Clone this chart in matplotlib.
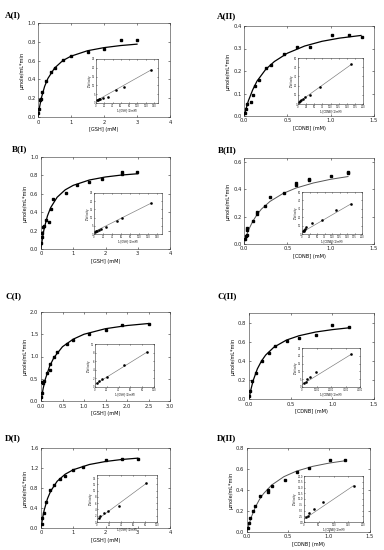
import matplotlib
matplotlib.use("Agg")
import matplotlib.pyplot as plt
from matplotlib.ticker import FormatStrFormatter

# ---- data ----
# A(I) GSH
a1_x = [0.01, 0.03, 0.05, 0.08, 0.12, 0.23, 0.38, 0.53, 0.75, 1.0, 1.5, 2.0, 2.5, 3.0]
a1_y = [0.04, 0.08, 0.18, 0.19, 0.27, 0.38, 0.48, 0.52, 0.61, 0.645, 0.69, 0.72, 0.815, 0.82]
a1_fit_x = [0, 0.05, 0.1, 0.2, 0.3, 0.5, 0.75, 1, 1.5, 2, 2.5, 3]
a1_fit_y = [0, 0.11, 0.20, 0.325, 0.41, 0.52, 0.60, 0.647, 0.705, 0.738, 0.76, 0.775]
a1_inv_x = [3, 4.5, 7.5, 10.5, 16.5, 28.5, 48, 67.5, 133.5]
a1_inv_y = [1.5, 1.75, 2.25, 2.5, 2.75, 3.5, 7.5, 9.25, 18.75]
a1_line_x = [0, 133.5]
a1_line_y = [1.2, 18.8]

# A(II) CDNB
a2_x = [0.01, 0.02, 0.04, 0.08, 0.1, 0.13, 0.17, 0.25, 0.31, 0.46, 0.61, 0.765, 1.01, 1.21, 1.36]
a2_y = [0.015, 0.03, 0.054, 0.064, 0.094, 0.134, 0.16, 0.213, 0.228, 0.277, 0.305, 0.305, 0.36, 0.36, 0.351]
a2_fit_x = [0, 0.05, 0.1, 0.15, 0.25, 0.35, 0.5, 0.7, 0.9, 1.1, 1.35]
a2_fit_y = [0, 0.067, 0.116, 0.155, 0.207, 0.242, 0.279, 0.311, 0.332, 0.346, 0.358]
a2_inv_x = [4, 6, 10, 14, 22, 36, 68, 164]
a2_inv_y = [2, 3, 4, 5, 8, 10, 19, 43]
a2_line_x = [0, 164]
a2_line_y = [1.5, 43]

# B(I) GSH
b1_x = [0.01, 0.03, 0.04, 0.06, 0.08, 0.15, 0.24, 0.3, 0.37, 0.76, 1.12, 1.49, 1.88, 2.5, 2.5, 2.98]
b1_y = [0.062, 0.135, 0.17, 0.235, 0.255, 0.32, 0.29, 0.43, 0.54, 0.605, 0.70, 0.73, 0.76, 0.84, 0.82, 0.84]
b1_fit_x = [0, 0.05, 0.1, 0.2, 0.3, 0.5, 0.75, 1, 1.5, 2, 2.5, 3]
b1_fit_y = [0, 0.13, 0.225, 0.36, 0.45, 0.5625, 0.643, 0.692, 0.75, 0.783, 0.804, 0.818]
b1_inv_x = [2, 4, 6, 10, 15, 27, 51, 61, 126]
b1_inv_y = [1.5, 1.75, 2.0, 2.5, 3.1, 4.5, 7.7, 9.75, 18.75]
b1_line_x = [0, 126]
b1_line_y = [1.3, 18.8]

# B(II) CDNB
b2_x = [0.01, 0.02, 0.03, 0.035, 0.04, 0.1, 0.155, 0.155, 0.24, 0.305, 0.456, 0.6, 0.6, 0.754, 0.754, 1.0, 1.2, 1.2]
b2_y = [0.034, 0.056, 0.066, 0.103, 0.115, 0.169, 0.22, 0.233, 0.28, 0.345, 0.377, 0.434, 0.444, 0.466, 0.473, 0.50, 0.517, 0.525]
b2_fit_x = [0, 0.02, 0.05, 0.1, 0.15, 0.2, 0.3, 0.45, 0.6, 0.8, 1.0, 1.2]
b2_fit_y = [0, 0.045, 0.1, 0.165, 0.215, 0.255, 0.312, 0.37, 0.41, 0.447, 0.474, 0.494]
b2_inv_x = [3, 5, 7, 10, 14, 34, 68, 112, 164]
b2_inv_y = [3, 4, 5, 6, 8, 13, 17, 28, 36]
b2_line_x = [0, 164]
b2_line_y = [2, 36]

# C(I) GSH
c1_x = [0.01, 0.015, 0.02, 0.05, 0.07, 0.15, 0.2, 0.22, 0.3, 0.37, 0.6, 0.75, 1.12, 1.5, 1.88, 2.5]
c1_y = [0.09, 0.17, 0.42, 0.40, 0.44, 0.63, 0.84, 0.70, 0.98, 1.11, 1.28, 1.37, 1.51, 1.59, 1.71, 1.74]
c1_fit_x = [0, 0.05, 0.1, 0.2, 0.3, 0.5, 0.75, 1, 1.5, 2, 2.5]
c1_fit_y = [0, 0.28, 0.49, 0.78, 0.975, 1.22, 1.39, 1.5, 1.625, 1.696, 1.741]
c1_inv_x = [4, 6, 12, 21, 49, 88]
c1_inv_y = [0.9, 1.3, 1.9, 2.3, 5.1, 8.1]
c1_line_x = [0, 88]
c1_line_y = [0.6, 8.1]

# C(II) CDNB
c2_x = [0.005, 0.01, 0.03, 0.08, 0.15, 0.24, 0.31, 0.45, 0.6, 0.8, 1.0, 1.2]
c2_y = [0.03, 0.08, 0.186, 0.27, 0.40, 0.48, 0.55, 0.61, 0.64, 0.67, 0.77, 0.75]
c2_fit_x = [0, 0.02, 0.05, 0.1, 0.15, 0.2, 0.3, 0.45, 0.6, 0.8, 1.0, 1.2]
c2_fit_y = [0, 0.089, 0.193, 0.315, 0.398, 0.46, 0.543, 0.617, 0.662, 0.701, 0.726, 0.745]
c2_inv_x = [150, 250, 350, 550, 950, 3400]
c2_inv_y = [2.6, 3.4, 5.2, 6.5, 9.8, 21]
c2_line_x = [0, 3400]
c2_line_y = [1.5, 21]

# D(I) GSH
d1_x = [0.02, 0.04, 0.08, 0.15, 0.29, 0.39, 0.6, 0.75, 0.99, 1.29, 2.0, 2.5, 3.0]
d1_y = [0.08, 0.21, 0.31, 0.53, 0.76, 0.86, 0.99, 1.05, 1.17, 1.23, 1.37, 1.38, 1.38]
d1_fit_x = [0, 0.05, 0.1, 0.2, 0.3, 0.5, 0.75, 1, 1.5, 2, 2.5, 3]
d1_fit_y = [0, 0.204, 0.36, 0.585, 0.738, 0.934, 1.076, 1.165, 1.27, 1.33, 1.37, 1.397]
d1_inv_x = [3, 5, 11, 19, 36, 82]
d1_inv_y = [1.2, 1.8, 3.0, 3.6, 5.2, 12.3]
d1_line_x = [0, 82]
d1_line_y = [0.7, 12.3]

# D(II) CDNB
d2_x = [0.01, 0.02, 0.04, 0.07, 0.1, 0.16, 0.255, 0.255, 0.31, 0.46, 0.61, 0.76, 1.01, 1.2]
d2_y = [0.04, 0.09, 0.13, 0.2, 0.25, 0.34, 0.385, 0.40, 0.44, 0.5, 0.57, 0.61, 0.69, 0.69]
d2_fit_x = [0, 0.02, 0.05, 0.1, 0.15, 0.2, 0.3, 0.45, 0.6, 0.8, 1.0, 1.2]
d2_fit_y = [0, 0.061, 0.137, 0.234, 0.3075, 0.364, 0.447, 0.527, 0.579, 0.625, 0.656, 0.679]
d2_inv_x = [6, 12, 16, 34, 66, 168]
d2_inv_y = [2.0, 2.8, 3.8, 5.8, 8.6, 15.8]
d2_line_x = [0, 168]
d2_line_y = [1.2, 15.8]

W, H = 384, 550
fig = plt.figure(figsize=(W / 100, H / 100), dpi=100)


def px_axes(l, t, r, b):
    return fig.add_axes([l / W, 1 - b / H, (r - l) / W, (b - t) / H])


def style(ax, fs, pad):
    for s in ax.spines.values():
        s.set_linewidth(0.4)
        s.set_color('#333333')
    ax.tick_params(direction='in', top=True, right=True, labelsize=fs,
                   width=0.4, length=1.6, pad=pad, colors='#222222')


def panel(box, inbox, label, lpos, x, y, fx, fy, ix, iy, lx, ly,
          xlim, xticks, xfmt, ylim, yticks, xlabel, inxlabel, inxlim, inylim,
          curve_color='black', curve_lw=0.9):
    ax = px_axes(*box)
    ax.plot(fx, fy, color=curve_color, lw=curve_lw, zorder=2)
    ax.plot(x, y, 's', color='black', ms=2.0, zorder=3)
    ax.set_xlim(*xlim)
    ax.set_ylim(*ylim)
    ax.set_xticks(xticks)
    ax.set_yticks(yticks)
    ax.xaxis.set_major_formatter(FormatStrFormatter(xfmt))
    ax.yaxis.set_major_formatter(FormatStrFormatter('%.1f'))
    style(ax, 3.8, 1.8)
    ax.set_xlabel(xlabel, fontsize=3.6, labelpad=1.5)
    ax.set_ylabel('µmole/mL*min', fontsize=3.6, labelpad=2)

    ins = px_axes(*inbox)
    ins.plot(lx, ly, color='#777777', lw=0.45)
    ins.plot(ix, iy, 's', color='black', ms=0.8)
    ins.set_xlim(*inxlim)
    ins.set_ylim(*inylim)
    style(ins, 1.8, 0.6)
    ins.tick_params(length=0.8)
    ins.set_xlabel(inxlabel, fontsize=1.8, labelpad=0.5)
    ins.set_ylabel('1/Velocity', fontsize=1.8, labelpad=0.5)

    fig.text(lpos[0] / W, 1 - lpos[1] / H, label, fontsize=6.5, fontweight='bold',
             family='Liberation Serif', va='bottom', ha='left')


gsh_x = [0, 1, 2, 3, 4]
cdnb_x = [0, 0.5, 1.0, 1.5]

panel((38, 23, 170, 117), (96, 59, 158, 103), 'A(I)', (5, 19),
      a1_x, a1_y, a1_fit_x, a1_fit_y, a1_inv_x, a1_inv_y, a1_line_x, a1_line_y,
      (0, 4), gsh_x, '%d', (0, 1.0), [0, 0.2, 0.4, 0.6, 0.8, 1.0],
      '[GSH] (mM)', '1/[GSH] (1/mM)', (0, 150), (0, 25))
panel((244, 26, 374, 116), (298, 58, 363, 104), 'A(II)', (217, 20),
      a2_x, a2_y, a2_fit_x, a2_fit_y, a2_inv_x, a2_inv_y, a2_line_x, a2_line_y,
      (0, 1.5), cdnb_x, '%.1f', (0, 0.4), [0, 0.1, 0.2, 0.3, 0.4],
      '[CDNB] (mM)', '1/[CDNB] (1/mM)', (0, 200), (0, 50))
panel((41, 157, 170, 249), (94, 193, 162, 234), 'B(I)', (12, 153),
      b1_x, b1_y, b1_fit_x, b1_fit_y, b1_inv_x, b1_inv_y, b1_line_x, b1_line_y,
      (0, 4), gsh_x, '%d', (0, 1.0), [0, 0.2, 0.4, 0.6, 0.8, 1.0],
      '[GSH] (mM)', '1/[GSH] (1/mM)', (0, 150), (0, 25))
panel((244, 158, 374, 244), (302, 192, 362, 234), 'B(II)', (218, 154),
      b2_x, b2_y, b2_fit_x, b2_fit_y, b2_inv_x, b2_inv_y, b2_line_x, b2_line_y,
      (0, 1.5), cdnb_x, '%.1f', (0, 0.63), [0, 0.2, 0.4, 0.6],
      '[CDNB] (mM)', '1/[CDNB] (1/mM)', (0, 200), (0, 50),
      curve_color='#555555', curve_lw=0.7)
panel((41, 312, 170, 401), (95, 344, 154, 387), 'C(I)', (5, 300),
      c1_x, c1_y, c1_fit_x, c1_fit_y, c1_inv_x, c1_inv_y, c1_line_x, c1_line_y,
      (0, 3.0), [0, 0.5, 1.0, 1.5, 2.0, 2.5, 3.0], '%.1f', (0, 2.0), [0, 0.5, 1.0, 1.5, 2.0],
      '[GSH] (mM)', '1/[GSH] (1/mM)', (0, 100), (0, 10))
panel((249, 313, 374, 399), (302, 348, 360, 387), 'C(II)', (217, 300),
      c2_x, c2_y, c2_fit_x, c2_fit_y, c2_inv_x, c2_inv_y, c2_line_x, c2_line_y,
      (0, 1.5), cdnb_x, '%.1f', (0, 0.9), [0, 0.2, 0.4, 0.6, 0.8],
      '[CDNB] (mM)', '1/[CDNB] (1/mM)', (0, 4000), (0, 25))
panel((41, 448, 170, 528), (97, 475, 157, 522), 'D(I)', (5, 442),
      d1_x, d1_y, d1_fit_x, d1_fit_y, d1_inv_x, d1_inv_y, d1_line_x, d1_line_y,
      (0, 4), gsh_x, '%d', (0, 1.6), [0, 0.4, 0.8, 1.2, 1.6],
      '[GSH] (mM)', '1/[GSH] (1/mM)', (0, 100), (0, 15))
panel((247, 448, 370, 532), (304, 476, 363, 522), 'D(II)', (217, 442),
      d2_x, d2_y, d2_fit_x, d2_fit_y, d2_inv_x, d2_inv_y, d2_line_x, d2_line_y,
      (0, 1.5), cdnb_x, '%.1f', (0, 0.8), [0, 0.2, 0.4, 0.6, 0.8],
      '[CDNB] (mM)', '1/[CDNB] (1/mM)', (0, 200), (0, 20),
      curve_color='#555555', curve_lw=0.7)

fig.savefig('out.png', dpi=100)
